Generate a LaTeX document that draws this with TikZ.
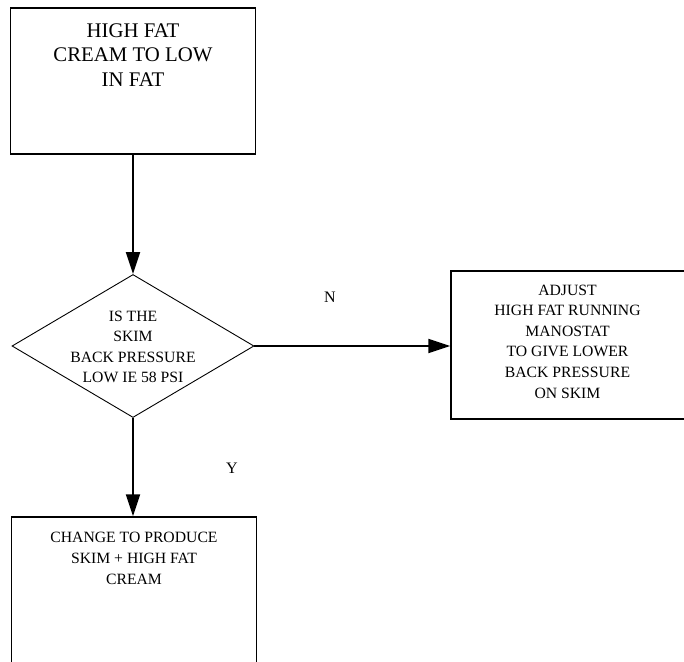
\documentclass[tikz,border=0pt]{standalone}
\usepackage{fontspec}
\setmainfont{Liberation Serif}
\usetikzlibrary{arrows.meta,shapes.geometric}

\tikzset{
  stepbox/.style={draw, line width=1.3pt, rectangle, inner sep=0pt},
  decision/.style={draw, line width=0.9pt, diamond, inner sep=0pt, aspect=1.69},
  bigtext/.style={align=center, inner sep=0pt, font=\fontsize{20.8}{24.5}\selectfont},
  smalltext/.style={align=center, inner sep=0pt, font=\fontsize{15.7}{20.6}\selectfont},
  flow/.style={line width=2pt, -{Triangle[length=22pt, width=14pt]}},
  branch/.style={font=\fontsize{16}{19}\selectfont, inner sep=0pt}
}

\begin{document}
\begin{tikzpicture}[x=1pt, y=-1pt]
  \useasboundingbox (0,0) rectangle (684,661);
  \clip (0,0) rectangle (684,661);

  % process boxes and the decision
  \node[stepbox, minimum width=245pt, minimum height=146pt] (start) at (133,81) {};
  \node[decision, minimum width=242pt, minimum height=143pt] (check) at (133,346) {};
  \node[stepbox, minimum width=240pt, minimum height=148pt] (adjust) at (571,345) {};
  \node[stepbox, minimum width=245pt, minimum height=200pt] (change) at (134,617) {};

  % box texts
  \node[bigtext, anchor=north, yshift=-16pt] (starttext) at (start.north)
    {HIGH FAT\\CREAM TO LOW\\IN FAT};
  \node[smalltext] (checktext) at (133,347)
    {IS THE\\SKIM\\BACK PRESSURE\\LOW IE 58 PSI};
  \node[smalltext] (adjusttext) at (567.5,341.5)
    {ADJUST\\HIGH FAT RUNNING\\MANOSTAT\\TO GIVE LOWER\\BACK PRESSURE\\ON SKIM};
  \node[smalltext, anchor=north, yshift=-16pt] (changetext) at (change.north)
    {CHANGE TO PRODUCE\\SKIM + HIGH FAT\\CREAM};

  % connectors, kept straight
  \draw[flow] (start.south -| check.north) -- (check.north);
  \draw[flow] (check.east) -- (check.east -| adjust.west);
  \draw[flow] (check.south) -- (check.south |- change.north);

  % branch labels
  \node[branch] (no) at (330,297) {N};
  \node[branch] (yes) at (232,468) {Y};
\end{tikzpicture}
\end{document}
